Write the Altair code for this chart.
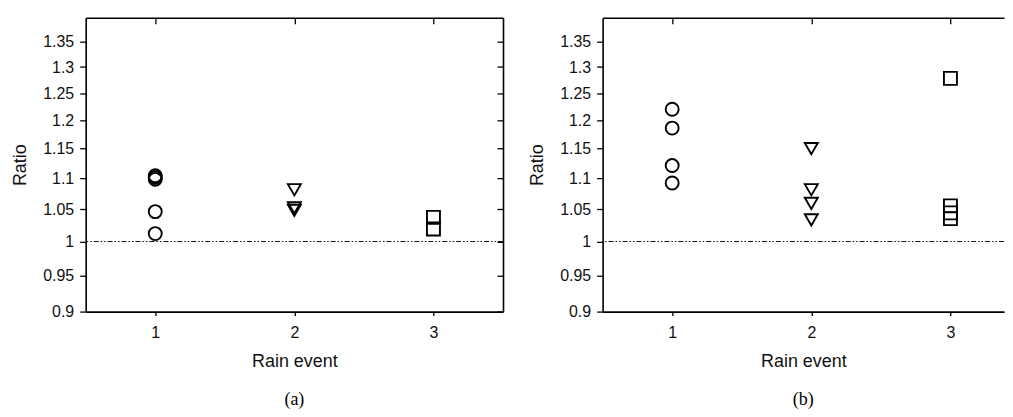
import altair as alt
import pandas as pd

# ---- data ----
EVENTS = [1, 2, 3]
SHAPES = ["circle", "triangle-down", "square"]
Y_TICKS = [0.9, 0.95, 1, 1.05, 1.1, 1.15, 1.2, 1.25, 1.3, 1.35]
X_TICKS = [1, 2, 3]

A_EVENT1 = [1.104, 1.101, 1.098, 1.046, 1.012]
A_EVENT2 = [1.081, 1.052, 1.048]
A_EVENT3 = [1.037, 1.019]

B_EVENT1 = [1.220, 1.186, 1.121, 1.092]
B_EVENT2 = [1.150, 1.081, 1.059, 1.033]
B_EVENT3 = [1.278, 1.055, 1.044, 1.035]

REF_LINE = [1.0]

LABEL_STYLE = dict(labelFont="Liberation Sans", labelFontSize=16,
                   labelColor="#111", titleFont="Liberation Sans",
                   titleFontSize=18, titleFontWeight="normal",
                   titleColor="#111", grid=False, domainColor="black",
                   domainWidth=1.6, tickColor="black", tickWidth=1.3)


def make_df(groups):
    rows = []
    for ev, shape, vals in zip(EVENTS, SHAPES, groups):
        for v in vals:
            rows.append({"event": ev, "ratio": v, "marker": shape})
    return pd.DataFrame(rows)


df_a = make_df([A_EVENT1, A_EVENT2, A_EVENT3])
df_b = make_df([B_EVENT1, B_EVENT2, B_EVENT3])

H = 295


def panel(df, xdom, width, title, right_axis=True):
    x_scale = alt.Scale(domain=xdom, nice=False, zero=False)
    y_scale = alt.Scale(type="log", domain=[0.9, 1.4], nice=False)
    base = alt.Chart(df)
    pts = base.mark_point(filled=False, color="black", strokeWidth=1.9,
                          size=170, opacity=1).encode(
        x=alt.X("event:Q", scale=x_scale,
                axis=alt.Axis(values=X_TICKS, format="d", title="Rain event",
                              orient="bottom", tickSize=4, labelPadding=9,
                              titlePadding=12, **LABEL_STYLE)),
        y=alt.Y("ratio:Q", scale=y_scale,
                axis=alt.Axis(values=Y_TICKS,
                              labelExpr="format(datum.value, '~g')",
                              title="Ratio", orient="left", tickSize=6,
                              labelPadding=6, titlePadding=13,
                              **LABEL_STYLE)),
        shape=alt.Shape("marker:N",
                        scale=alt.Scale(domain=SHAPES, range=SHAPES),
                        legend=None),
    )
    if right_axis:
        yg = alt.Y("ratio:Q", scale=y_scale,
                   axis=alt.Axis(values=Y_TICKS, labels=False, title=None,
                                 orient="left", offset=-width, tickSize=6,
                                 **LABEL_STYLE))
    else:
        yg = alt.Y("ratio:Q", scale=y_scale, axis=None)
    ghost = base.mark_point(opacity=0).encode(
        x=alt.X("event:Q", scale=x_scale,
                axis=alt.Axis(values=X_TICKS, labels=False, title=None,
                              orient="bottom", offset=-H, tickSize=6,
                              **LABEL_STYLE)),
        y=yg,
    )
    ref = alt.Chart(pd.DataFrame({"ratio": REF_LINE})).mark_rule(
        color="#111", strokeWidth=1.1, strokeDash=[5, 2, 1.5, 2, 1.5, 2]
    ).encode(y=alt.Y("ratio:Q", scale=y_scale, axis=None))
    return alt.layer(ref, pts, ghost).resolve_axis(
        x="independent", y="independent"
    ).properties(
        width=width, height=H,
        title=alt.TitleParams(text=title, orient="bottom", anchor="middle",
                              frame="group", font="Liberation Serif",
                              fontSize=18, fontWeight="normal", color="black",
                              offset=21),
    )


left = panel(df_a, [0.5, 3.5], 419, "(a)", right_axis=True)
right = panel(df_b, [0.5, 3.385], 403, "(b)", right_axis=False)

chart = alt.hconcat(left, right, spacing=24).properties(
    padding={"left": 3, "top": 8, "right": 0, "bottom": 0}
).configure_view(stroke=None)

chart.save("out.html", embed_options={"renderer": "svg", "actions": False})
